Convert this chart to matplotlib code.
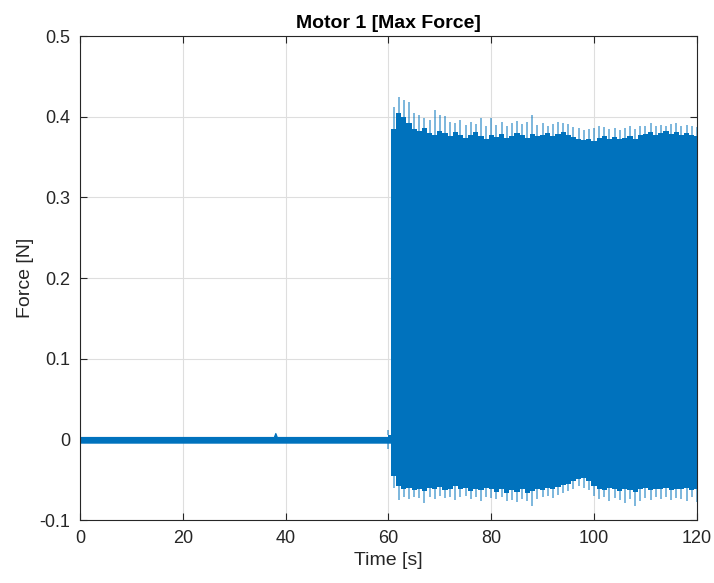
import matplotlib.pyplot as plt
import numpy as np

# quiet phase (motor idle), band of the signal around zero
t_quiet = [0, 37.7, 38.0, 38.3, 60.5]
quiet_hi = [0.003, 0.003, 0.008, 0.003, 0.003]
quiet_lo = [-0.004, -0.004, -0.004, -0.004, -0.004]

# active phase, one value per second from 60 s to 120 s
t_act = list(range(60, 121))
core_hi = [0.005, 0.385, 0.405, 0.400, 0.392, 0.385, 0.383, 0.386, 0.380, 0.378,
           0.383, 0.380, 0.376, 0.381, 0.377, 0.374, 0.378, 0.381, 0.376, 0.373,
           0.377, 0.375, 0.379, 0.374, 0.376, 0.380, 0.377, 0.374, 0.379, 0.376,
           0.378, 0.380, 0.376, 0.379, 0.381, 0.377, 0.375, 0.373, 0.371, 0.372,
           0.370, 0.374, 0.376, 0.373, 0.375, 0.372, 0.374, 0.376, 0.373, 0.377,
           0.379, 0.381, 0.378, 0.380, 0.382, 0.379, 0.381, 0.378, 0.380, 0.377,
           0.376]
peak_hi = [0.012, 0.412, 0.424, 0.421, 0.418, 0.405, 0.402, 0.398, 0.396, 0.408,
           0.402, 0.401, 0.394, 0.392, 0.396, 0.390, 0.393, 0.391, 0.398, 0.389,
           0.398, 0.390, 0.394, 0.389, 0.392, 0.395, 0.391, 0.393, 0.402, 0.390,
           0.392, 0.389, 0.391, 0.393, 0.392, 0.391, 0.387, 0.386, 0.384, 0.385,
           0.386, 0.388, 0.387, 0.385, 0.386, 0.384, 0.386, 0.388, 0.385, 0.389,
           0.388, 0.392, 0.389, 0.390, 0.388, 0.391, 0.392, 0.388, 0.390, 0.388,
           0.387]
core_lo = [-0.005, -0.045, -0.058, -0.062, -0.060, -0.063, -0.061, -0.064, -0.060, -0.062,
           -0.059, -0.063, -0.061, -0.058, -0.062, -0.060, -0.064, -0.061, -0.063, -0.060,
           -0.062, -0.065, -0.062, -0.066, -0.063, -0.065, -0.062, -0.066, -0.064, -0.061,
           -0.063, -0.060, -0.062, -0.059, -0.057, -0.055, -0.052, -0.049, -0.048, -0.051,
           -0.058, -0.061, -0.063, -0.060, -0.062, -0.064, -0.061, -0.063, -0.065, -0.062,
           -0.060, -0.063, -0.061, -0.062, -0.060, -0.063, -0.061, -0.062, -0.060, -0.063,
           -0.061]
peak_lo = [-0.012, -0.060, -0.075, -0.072, -0.074, -0.071, -0.073, -0.079, -0.072, -0.074,
           -0.070, -0.073, -0.071, -0.075, -0.072, -0.070, -0.074, -0.072, -0.076, -0.071,
           -0.073, -0.074, -0.072, -0.077, -0.075, -0.078, -0.074, -0.076, -0.083, -0.074,
           -0.072, -0.070, -0.073, -0.069, -0.067, -0.064, -0.062, -0.058, -0.060, -0.063,
           -0.070, -0.074, -0.072, -0.076, -0.073, -0.075, -0.079, -0.074, -0.083, -0.076,
           -0.073, -0.075, -0.072, -0.074, -0.071, -0.075, -0.073, -0.074, -0.077, -0.072,
           -0.078]

blue = '#0072BD'
plt.rcParams['font.family'] = ['Liberation Sans', 'DejaVu Sans']

fig = plt.figure(figsize=(7.14, 5.83), dpi=100)
ax = fig.add_axes([0.112, 0.108, 0.864, 0.830])

ax.fill_between(t_quiet, quiet_lo, quiet_hi, color=blue, lw=0.8)
ax.fill_between(t_act, core_lo, core_hi, color=blue, lw=0, step='mid')
# spikes sticking out of the dense band
ax.vlines(t_act, core_hi, peak_hi, color=blue, lw=1.2, alpha=0.6)
ax.vlines(t_act, peak_lo, core_lo, color=blue, lw=1.2, alpha=0.6)

ax.set_xlim(0, 120)
ax.set_ylim(-0.1, 0.5)
ax.set_xticks([0, 20, 40, 60, 80, 100, 120])
ax.set_yticks([-0.1, 0, 0.1, 0.2, 0.3, 0.4, 0.5])
ax.set_yticklabels(['-0.1', '0', '0.1', '0.2', '0.3', '0.4', '0.5'])
ax.grid(True, color='#dedede', lw=0.8)
ax.set_axisbelow(True)
ax.tick_params(direction='in', top=True, right=True, length=5,
               labelsize=13, colors='#262626', pad=7)
for s in ax.spines.values():
    s.set_color('#262626')
    s.set_linewidth(0.8)

ax.set_xlabel('Time [s]', fontsize=14, color='#262626')
ax.set_ylabel('Force [N]', fontsize=14, color='#262626')
ax.set_title('Motor 1 [Max Force]', fontsize=14, fontweight='bold', pad=6)

plt.savefig('out.png')
